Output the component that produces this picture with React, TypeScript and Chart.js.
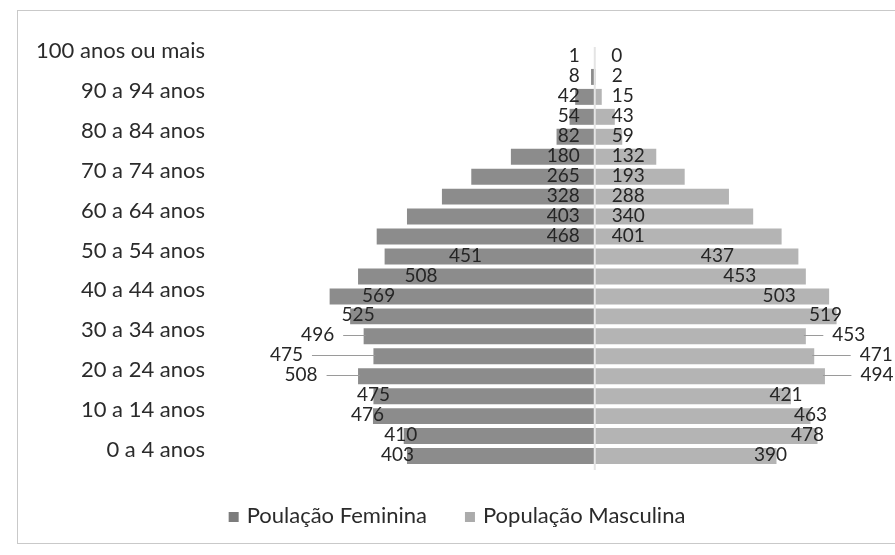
import React, { useEffect, useRef } from 'react';
import { Chart, registerables } from 'chart.js';

Chart.register(...registerables);

const ageGroups = [
  '0 a 4 anos', '5 a 9 anos', '10 a 14 anos', '15 a 19 anos', '20 a 24 anos',
  '25 a 29 anos', '30 a 34 anos', '35 a 39 anos', '40 a 44 anos', '45 a 49 anos',
  '50 a 54 anos', '55 a 59 anos', '60 a 64 anos', '65 a 69 anos', '70 a 74 anos',
  '75 a 79 anos', '80 a 84 anos', '85 a 89 anos', '90 a 94 anos', '95 a 99 anos',
  '100 anos ou mais',
];
const femalePop = [403, 410, 476, 475, 508, 475, 496, 525, 569, 508, 451, 468, 403, 328, 265, 180, 82, 54, 42, 8, 1];
const malePop = [390, 478, 463, 421, 494, 471, 453, 519, 503, 453, 437, 401, 340, 288, 193, 132, 59, 43, 15, 2, 0];
const seriesNames = ['Poulação Feminina', 'População Masculina'];

// label placement (styling): 'base' = near the centre axis, number = px outward from bar end,
// { lead: n } = outside with a leader line, n px outward from bar end
type Place = 'base' | number | { lead: number };
const femaleLabelPlace: Place[] = [9.5, 3, 5.5, 0, { lead: 57 }, { lead: 87 }, { lead: 46 }, -8, -49, -63, -81,
  'base', 'base', 'base', 'base', 'base', 'base', 'base', 'base', 'base', 'base'];
const maleLabelPlace: Place[] = [-6, -10, 0, -5, { lead: 52 }, { lead: 62 }, { lead: 43 }, -11, -50, -66, -81,
  'base', 'base', 'base', 'base', 'base', 'base', 'base', 'base', 'base', 'base'];

const FEMALE_COLOR = '#8c8c8c';
const MALE_COLOR = '#b4b4b4';
const FONT = 'Lato';

const decorPlugin = {
  id: 'pyramidDecor',
  beforeDraw(chart: any) {
    const ctx = chart.ctx;
    ctx.save();
    ctx.fillStyle = '#ffffff';
    ctx.fillRect(0, 0, chart.width, chart.height);
    ctx.strokeStyle = '#c9c9c9';
    ctx.lineWidth = 1;
    ctx.strokeRect(17.5, 10.5, 900, 533);
    ctx.restore();
  },
  afterDatasetsDraw(chart: any) {
    const ctx = chart.ctx;
    const xs = chart.scales.x;
    const zero = xs.getPixelForValue(0);
    const area = chart.chartArea;
    ctx.save();
    ctx.strokeStyle = '#e4e4e4';
    ctx.lineWidth = 2;
    ctx.beginPath();
    ctx.moveTo(zero, area.top);
    ctx.lineTo(zero, area.bottom + 4);
    ctx.stroke();

    ctx.font = `19px ${FONT}`;
    ctx.fillStyle = '#262626';
    ctx.textBaseline = 'middle';
    const sides = [
      { idx: 0, dir: -1, values: femalePop, place: femaleLabelPlace },
      { idx: 1, dir: 1, values: malePop, place: maleLabelPlace },
    ];
    sides.forEach(({ idx, dir, values, place }) => {
      const meta = chart.getDatasetMeta(idx);
      meta.data.forEach((el: any, j: number) => {
        const txt = String(values[j]);
        const p = place[j];
        const end = el.x;
        const base = el.base;
        const y = el.y - 1;
        if (p === 'base') {
          ctx.textAlign = dir < 0 ? 'right' : 'left';
          ctx.fillText(txt, base + dir * (dir < 0 ? 15 : 17), y);
        } else if (typeof p === 'number') {
          ctx.textAlign = 'center';
          ctx.fillText(txt, end + dir * p, y);
        } else {
          const cx = end + dir * p.lead;
          const w = ctx.measureText(txt).width;
          ctx.textAlign = 'center';
          ctx.fillText(txt, cx, y);
          const edge = cx - dir * (w / 2 + 9);
          ctx.strokeStyle = '#9a9a9a';
          ctx.lineWidth = 1;
          ctx.beginPath();
          ctx.moveTo(end - dir * 2, Math.round(y) + 0.5);
          ctx.lineTo(edge, Math.round(y) + 0.5);
          ctx.stroke();
        }
      });
    });
    ctx.restore();
  },
  afterDraw(chart: any) {
    const ctx = chart.ctx;
    ctx.save();
    ctx.font = `22px ${FONT}`;
    ctx.textBaseline = 'middle';
    ctx.textAlign = 'left';
    const w1 = ctx.measureText(seriesNames[0]).width;
    const w2 = ctx.measureText(seriesNames[1]).width;
    const total = 10 + 8 + w1 + 38 + 10 + 8 + w2;
    let x = 457 - total / 2;
    const sy = 512;
    const colors = ['#7c7c7c', '#ababab'];
    [w1, w2].forEach((w, i) => {
      ctx.fillStyle = colors[i];
      ctx.fillRect(x, sy, 10, 10);
      x += 18;
      ctx.fillStyle = '#2b2b2b';
      ctx.fillText(seriesNames[i], x, 516);
      x += w + 38;
    });
    ctx.restore();
  },
};

export default function App() {
  const ref = useRef<HTMLCanvasElement | null>(null);
  useEffect(() => {
    document.body.style.margin = '0';
    const canvas = ref.current;
    if (!canvas) return;
    const chart = new Chart(canvas, {
      type: 'bar',
      data: {
        labels: ageGroups,
        datasets: [
          {
            label: seriesNames[0],
            data: femalePop.map((v) => -v),
            backgroundColor: FEMALE_COLOR,
            borderWidth: 0,
            barPercentage: 0.8,
            categoryPercentage: 1,
          },
          {
            label: seriesNames[1],
            data: malePop,
            backgroundColor: MALE_COLOR,
            borderWidth: 0,
            barPercentage: 0.8,
            categoryPercentage: 1,
          },
        ],
      },
      options: {
        indexAxis: 'y',
        animation: false,
        responsive: false,
        maintainAspectRatio: false,
        layout: { padding: { top: 47, bottom: 89, left: 0, right: 16 } },
        plugins: {
          legend: { display: false },
          tooltip: { enabled: false },
        },
        scales: {
          x: {
            type: 'linear',
            stacked: true,
            min: -815,
            max: 610,
            display: false,
          },
          y: {
            stacked: true,
            reverse: true,
            afterFit(axis: any) {
              axis.width = 215;
            },
            grid: { display: false, drawTicks: false },
            border: { display: false },
            ticks: {
              autoSkip: false,
              padding: 10,
              labelOffset: -6,
              color: '#2b2b2b',
              font: { family: FONT, size: 22 },
              callback: (value: any) => {
                const i = Number(value);
                return i % 2 === 0 ? ageGroups[i] : '';
              },
            },
          },
        },
      },
      plugins: [decorPlugin],
    } as any);
    return () => chart.destroy();
  }, []);
  return <canvas ref={ref} width={895} height={555} style={{ display: 'block' }} />;
}
